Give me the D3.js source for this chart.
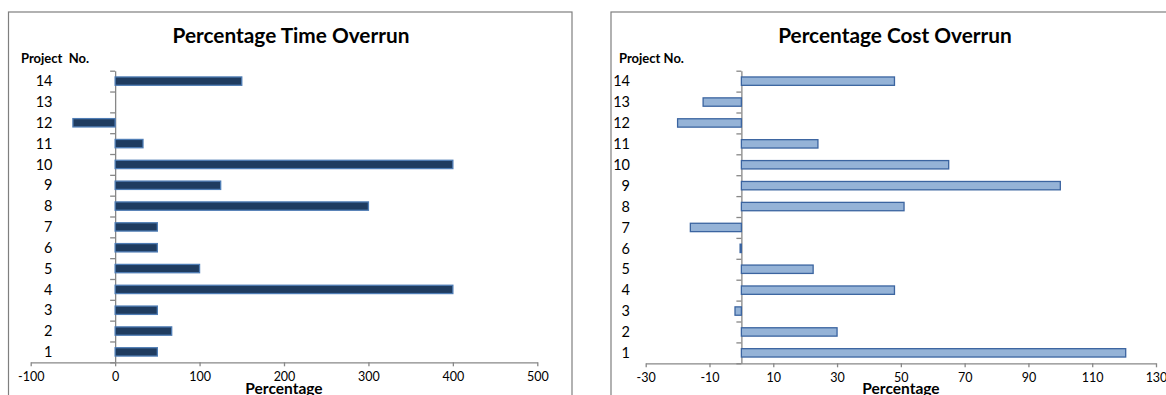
<!DOCTYPE html>
<html>
<head>
<meta charset="utf-8">
<script src="https://cdn.jsdelivr.net/npm/d3@7"></script>
<style>
  html, body { margin: 0; padding: 0; background: #fff; }
  svg { display: block; }
  text { font-family: Lato, "Open Sans", sans-serif; fill: #000; }
</style>
</head>
<body>
<svg id="chart" width="1166" height="395"></svg>
<script>
// Project numbers, listed bottom to top
const projects = ["1","2","3","4","5","6","7","8","9","10","11","12","13","14"];

// Percentage time overrun per project
const timeOverrun = [50, 67, 50, 400, 100, 50, 50, 300, 125, 400, 33, -50, 0, 150];
const timeTicks = [-100, 0, 100, 200, 300, 400, 500];

// Percentage cost overrun per project
const costOverrun = [120.5, 30, -2, 48, 22.5, -0.4, -16, 51, 100, 65, 24, -20, -12, 48];
const costTicks = [-30, -10, 10, 30, 50, 70, 90, 110, 130];

const svg = d3.select("#chart");
const axisColor = "#878787";

function drawPanel(cfg) {
  const g = svg.append("g");

  // chart frame
  g.append("rect")
    .attr("x", cfg.frame[0]).attr("y", cfg.frame[1])
    .attr("width", cfg.frame[2]).attr("height", cfg.frame[3])
    .attr("fill", "#fff").attr("stroke", "#7f7f7f").attr("stroke-width", 1.2);

  const x = d3.scaleLinear().domain(cfg.domain).range(cfg.xRange);
  const y = d3.scaleBand()
    .domain(projects.slice().reverse())
    .range(cfg.yRange)
    .paddingInner(0.6).paddingOuter(0.3);

  // category boundary ticks on the vertical axis
  const yb = d3.scaleLinear().domain([0, projects.length]).range([cfg.yRange[1], cfg.yRange[0]]);
  const yAxis = g.append("g")
    .attr("transform", `translate(${x(0)},0)`)
    .call(d3.axisLeft(yb).tickValues(d3.range(0, projects.length + 1))
      .tickFormat("").tickSizeInner(5).tickSizeOuter(0));
  yAxis.selectAll("path, line").attr("stroke", axisColor).attr("stroke-width", 1.3);

  // horizontal value axis (plain hyphen for negatives)
  const xAxis = g.append("g")
    .attr("transform", `translate(0,${cfg.yRange[1]})`)
    .call(d3.axisBottom(x).tickValues(cfg.ticks).tickFormat(d => String(d))
      .tickSizeInner(4).tickSizeOuter(0).tickPadding(6));
  xAxis.selectAll("path, line").attr("stroke", axisColor).attr("stroke-width", 1.3);
  xAxis.selectAll("text")
    .style("font-family", "Lato, sans-serif").style("font-size", "12.5px").attr("fill", "#000");

  // bars
  g.append("g").selectAll("rect")
    .data(projects.map((p, i) => ({ p, v: cfg.values[i] })))
    .join("rect")
    .attr("x", d => x(Math.min(0, d.v)))
    .attr("y", d => y(d.p))
    .attr("width", d => Math.abs(x(d.v) - x(0)))
    .attr("height", y.bandwidth())
    .attr("fill", cfg.fill)
    .attr("stroke", cfg.stroke)
    .attr("stroke-width", 1.3);

  // category labels
  g.append("g").selectAll("text")
    .data(projects)
    .join("text")
    .attr("x", cfg.labelX)
    .attr("y", d => y(d) + y.bandwidth() / 2)
    .attr("dy", "0.36em")
    .attr("text-anchor", "end")
    .style("font-size", "14.5px")
    .text(d => d);

  // titles
  g.append("text")
    .attr("x", cfg.titleX).attr("y", 43)
    .attr("text-anchor", "middle")
    .style("font-size", "20.8px").style("font-weight", "bold")
    .text(cfg.title);

  g.append("text")
    .attr("x", cfg.yTitleX).attr("y", 62.5)
    .style("font-size", "13px").style("font-weight", "bold")
    .style("white-space", "pre")
    .attr("xml:space", "preserve")
    .text(cfg.yTitle);

  g.append("text")
    .attr("x", cfg.xTitleX).attr("y", 394)
    .attr("text-anchor", "middle")
    .style("font-size", "15.5px").style("font-weight", "bold")
    .text("Percentage");
}

drawPanel({
  frame: [8.5, 12, 563.5, 400],
  domain: [-100, 500], xRange: [30.7, 537.3], yRange: [70.7, 362.3],
  ticks: timeTicks, values: timeOverrun,
  fill: "#1f3c60", stroke: "#4f7db5",
  labelX: 52.5, titleX: 291, title: "Percentage Time Overrun",
  yTitleX: 21, yTitle: "Project  No.", xTitleX: 284
});

drawPanel({
  frame: [611, 12, 570, 400],
  domain: [-30, 130], xRange: [645.7, 1156], yRange: [70.7, 363.3],
  ticks: costTicks, values: costOverrun,
  fill: "#95b3d7", stroke: "#3b64a0",
  labelX: 630, titleX: 895, title: "Percentage Cost Overrun",
  yTitleX: 619, yTitle: "Project No.", xTitleX: 901
});
</script>
</body>
</html>
